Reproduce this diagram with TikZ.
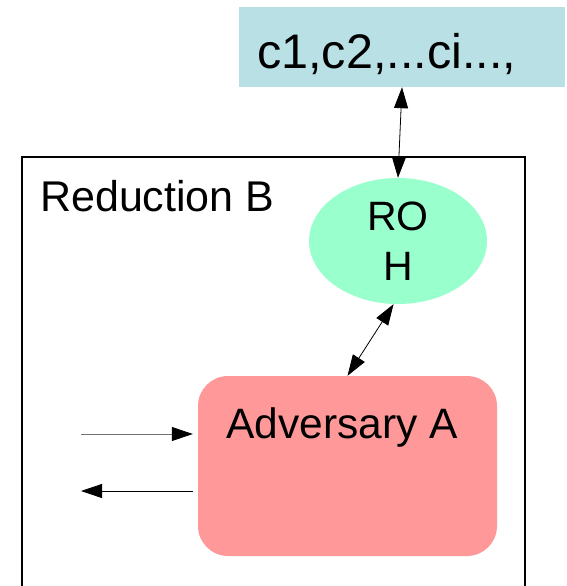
\documentclass[tikz,border=0pt]{standalone}
\usepackage{fontspec}
\setmainfont{Liberation Sans}
\usetikzlibrary{arrows.meta,shapes.geometric}

\definecolor{listcyan}{RGB}{185,224,228}
\definecolor{oraclegreen}{RGB}{153,255,204}
\definecolor{advpink}{RGB}{255,153,153}

\tikzset{
  listbox/.style={rectangle, fill=listcyan, draw=none, minimum width=326pt, minimum height=80pt, inner sep=0pt},
  oracle/.style={ellipse, fill=oraclegreen, draw=none, minimum width=178pt, minimum height=126pt, inner sep=0pt, align=center, font=\fontsize{41}{50}\selectfont},
  advbox/.style={rectangle, rounded corners=30pt, fill=advpink, draw=none, minimum width=299pt, minimum height=180pt, inner sep=0pt},
  caption/.style={inner sep=0pt, anchor=base west},
  link/.style={line width=0.8pt, {Triangle[length=21pt,width=14pt]}-{Triangle[length=21pt,width=14pt]}},
  oneway/.style={line width=0.8pt, -{Triangle[length=21pt,width=14pt]}}
}

\begin{document}
\begin{tikzpicture}[x=1pt,y=-1pt]
  \useasboundingbox (0,0) rectangle (567,586);

  % reduction frame, open at the bottom
  \draw[line width=1.4pt] (22,600) -- (22,157) -- (525,157) -- (525,600);
  \node[caption, font=\fontsize{43}{50}\selectfont] (redlabel) at (40,211) {Reduction B};

  % challenge list
  \node[listbox] (list) at (402,47) {};
  \node[caption, font=\fontsize{48.5}{56}\selectfont] (listtext) at (257,68) {c1,c2,...ci...,};

  % random oracle
  \node[oracle] (rohash) at (398,241) {RO\\H};

  % adversary
  \node[advbox] (adv) at (347.5,466) {};
  \node[caption, font=\fontsize{42.5}{50}\selectfont] (advlabel) at (226,438) {Adversary A};

  % connectors
  \draw[link] (list.south) -- (rohash.north);
  \draw[link] (rohash.-94) -- (adv.north);

  \coordinate (inStart) at (81,434);
  \coordinate (outEnd) at (81,491);
  \draw[oneway, draw=black!55, -{Triangle[length=21pt,width=14pt,fill=black,color=black]}] (inStart) -- ([xshift=-5pt]adv.west |- inStart);
  \draw[oneway] ([xshift=-5pt]adv.west |- outEnd) -- (outEnd);
\end{tikzpicture}
\end{document}
